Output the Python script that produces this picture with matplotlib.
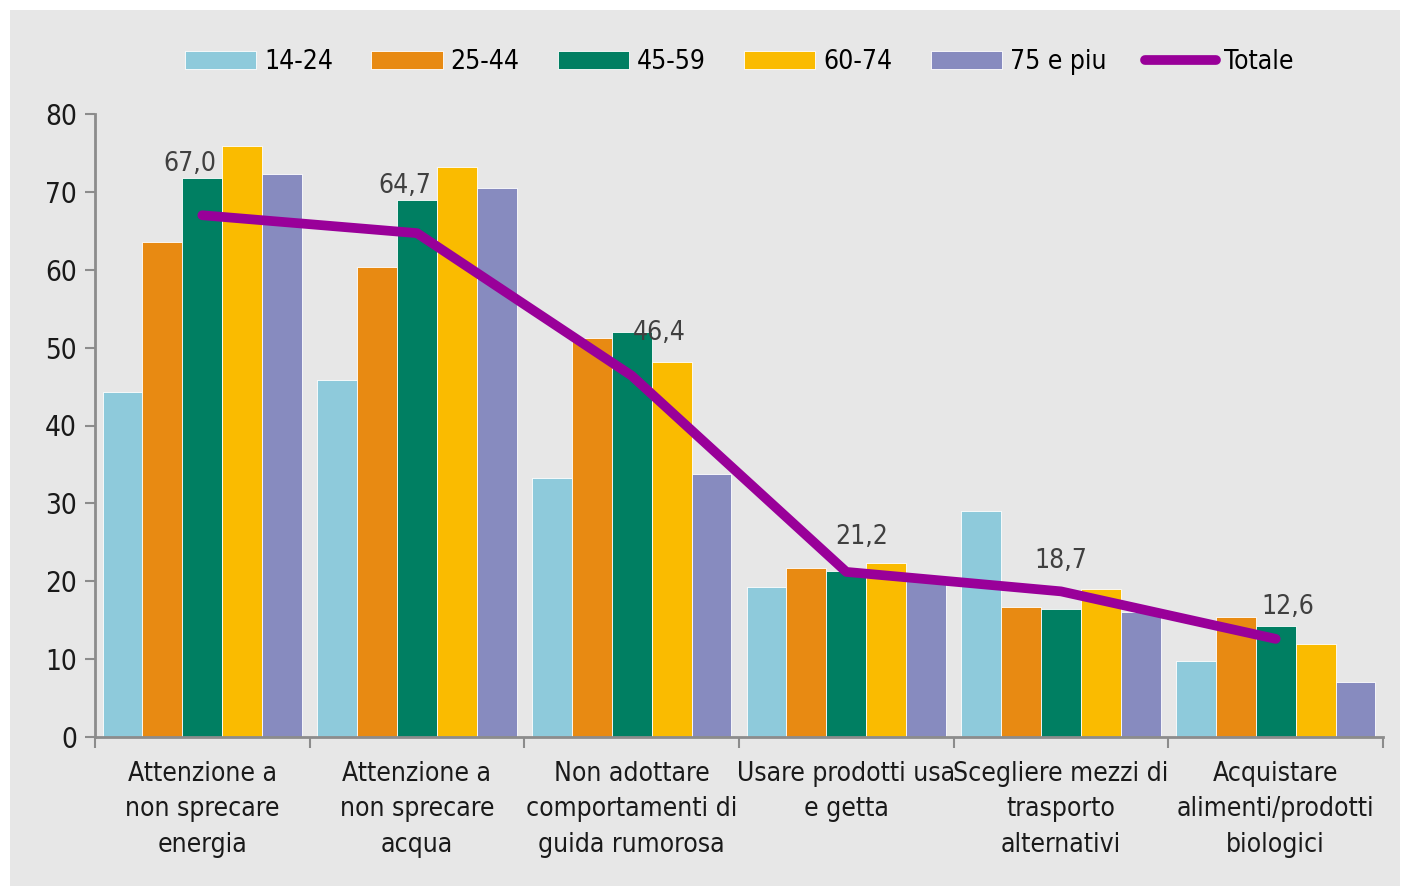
import matplotlib
matplotlib.use('Agg')
import matplotlib.pyplot as plt
import numpy as np
from matplotlib.patches import Rectangle

plt.rcParams['font.family'] = ['DejaVu Sans']
plt.rcParams['font.stretch'] = 'condensed'

# data
categories = [
    "Attenzione a\nnon sprecare\nenergia",
    "Attenzione a\nnon sprecare\nacqua",
    "Non adottare\ncomportamenti di\nguida rumorosa",
    "Usare prodotti usa\ne getta",
    "Scegliere mezzi di\ntrasporto\nalternativi",
    "Acquistare\nalimenti/prodotti\nbiologici",
]
age_groups = ["14-24", "25-44", "45-59", "60-74", "75 e piu"]
v_14_24 = [44.3, 45.8, 33.2, 19.3, 29.0, 9.8]
v_25_44 = [63.5, 60.3, 51.3, 21.7, 16.7, 15.4]
v_45_59 = [71.8, 68.9, 52.0, 21.3, 16.4, 14.2]
v_60_74 = [75.9, 73.2, 48.1, 22.4, 19.0, 11.9]
v_75_up = [72.3, 70.5, 33.8, 20.0, 16.0, 7.0]
totale = [67.0, 64.7, 46.4, 21.2, 18.7, 12.6]

series = [v_14_24, v_25_44, v_45_59, v_60_74, v_75_up]
colors = ["#8ECADB", "#E88A12", "#007F62", "#FABB00", "#878BBF"]
line_color = "#990099"
bg = "#E7E7E7"
axis_gray = "#8C8C8C"

# label offsets (points) as placed in the original
label_offsets = [(-9, 37), (-9, 34), (20, 31), (11, 25), (0, 22), (9, 23)]

fig = plt.figure(figsize=(14.05, 8.86), dpi=100)
fig.patches.append(Rectangle((10 / 1405, 0), 1390 / 1405, 1 - 10 / 886,
                             transform=fig.transFigure, facecolor=bg,
                             edgecolor='none', zorder=-10))
ax = fig.add_axes([95 / 1405, 1 - 737 / 886, 1288 / 1405, 623 / 886])
ax.set_facecolor(bg)

x = np.arange(len(categories))
w = 0.186
handles = []
for j, (vals, col, lab) in enumerate(zip(series, colors, age_groups)):
    b = ax.bar(x + (j - 2) * w, vals, width=w, color=col, edgecolor='white',
               linewidth=0.6, label=lab, zorder=2)
    handles.append(b)

ln, = ax.plot(x, totale, color=line_color, linewidth=7, solid_capstyle='round',
              solid_joinstyle='round', zorder=3, label="Totale")
handles.append(ln)

for xi, yi, (dx, dy) in zip(x, totale, label_offsets):
    ax.annotate(f"{yi:.1f}".replace('.', ','), (xi, yi), xytext=(dx, dy),
                textcoords='offset points', ha='center', va='center',
                fontsize=19, color='#404040', zorder=4)

ax.set_xlim(-0.5, len(categories) - 0.5)
ax.set_ylim(0, 80)
ax.set_yticks(range(0, 81, 10))
ax.tick_params(axis='y', direction='out', length=7, width=1.5, color=axis_gray,
               labelsize=20, labelcolor='#1a1a1a', pad=6)

ax.set_xticks(np.arange(-0.5, len(categories), 1.0))
ax.set_xticklabels([])
ax.set_xticks(x, minor=True)
ax.set_xticklabels(categories, minor=True, fontsize=19, color='#1a1a1a',
                   linespacing=1.48)
ax.tick_params(axis='x', which='major', direction='out', length=8, width=1.5,
               color=axis_gray)
ax.tick_params(axis='x', which='minor', length=0, pad=17)

for s in ['top', 'right']:
    ax.spines[s].set_visible(False)
for s in ['left', 'bottom']:
    ax.spines[s].set_color(axis_gray)
    ax.spines[s].set_linewidth(2)

fig.legend(handles=handles, labels=age_groups + ["Totale"], loc='center',
           bbox_to_anchor=(0.526, 0.930), ncol=6, frameon=False, fontsize=19,
           handlelength=2.7, handleheight=0.7, handletextpad=0.3,
           columnspacing=1.45)

fig.savefig("out.png", dpi=100, facecolor='white')
